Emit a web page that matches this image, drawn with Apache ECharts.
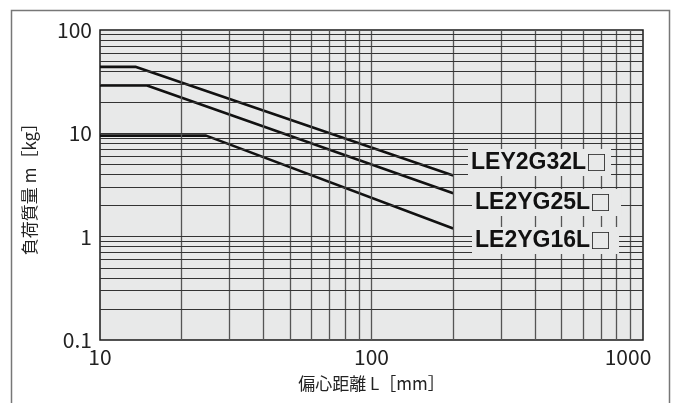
<!DOCTYPE html>
<html><head><meta charset="utf-8">
<script src="https://cdn.jsdelivr.net/npm/echarts@6/dist/echarts.min.js"></script>
<style>html,body{margin:0;padding:0;background:#fff}#c{width:673px;height:403px}</style>
</head><body><div id="c"></div>
<script>
// data
var seriesNames = ['LEY2G32L□', 'LE2YG25L□', 'LE2YG16L□'];
var dist32 = [10, 13.5, 200];
var mass32 = [44, 44, 3.9];
var dist25 = [10, 14.9, 200];
var mass25 = [29, 29, 2.63];
var dist16 = [10, 24.6, 200];
var mass16 = [9.5, 9.5, 1.2];
var xTicks = [10, 100, 1000];
var yTicks = [0.1, 1, 10, 100];
var xGrid = [20,30,40,50,60,70,80,90,100,200,300,400,500,600,700,800,900];
var yGrid = [0.2,0.3,0.4,0.5,0.6,0.7,0.8,0.9,1,2,3,4,5,6,7,8,9,10,20,30,40,50,60,70,80,90];

function pairs(xs, ys){ return xs.map(function(x,i){return [x, ys[i]];}); }
function richName(n){ return '{a|' + n.slice(0, -1) + '}{b|' + n.slice(-1) + '}'; }

var FONT = '"Noto Sans CJK JP", "Noto Sans", sans-serif';
var BOLD = '"Liberation Sans", Arial, sans-serif';
var BG = '#e8e9e9';
var chart = echarts.init(document.getElementById('c'));

var gridMarks = {
  silent: true, symbol: ['none','none'], label: {show:false}, animation:false,
  data: xGrid.map(function(v){return {xAxis: v, lineStyle:{color:'#555', width:1.3, type:'solid'}};})
    .concat(yGrid.map(function(v){return {yAxis: v, lineStyle:{color:'#333', width:1, type:'solid'}};}))
};

var nameRich = {
  a:{fontFamily:BOLD, fontWeight:'bold', fontSize:23, fill:'#111', color:'#111'},
  b:{fontFamily:FONT, fontWeight:'normal', fontSize:21, fill:'#111', color:'#111', padding:[0,0,0,0]}
};

function legendText(i, left, top, padR){
  return {type:'text', left:left, top:top, z:100,
    style:{text:richName(seriesNames[i]), rich:nameRich, fill:'#111', backgroundColor:BG, padding:[2,padR,2,3]}};
}

var lineStyle = {color:'#111', width:2.6};
chart.setOption({
  animation: false,
  grid: {left:100, right:30, top:30, bottom:63, show:true, backgroundColor:BG, borderColor:'#1a1a1a', borderWidth:1.5},
  xAxis: {
    type:'log', logBase:10, min:10, max:1000,
    name:'偏心距離 L［mm］', nameLocation:'middle', nameGap:35,
    nameTextStyle:{fontFamily:FONT, fontSize:17, color:'#222'},
    axisLine:{show:false}, axisTick:{show:false}, splitLine:{show:false},
    axisLabel:{fontFamily:FONT, fontSize:21, color:'#222', margin:7,
      formatter:function(v){ return v===1000 ? '{r|1000}' : String(v); },
      rich:{r:{fontFamily:FONT, fontSize:21, color:'#222', padding:[0,30,0,0]}}}
  },
  yAxis: {
    type:'log', logBase:10, min:0.1, max:100,
    name:'負荷質量 m［kg］', nameLocation:'middle', nameGap:62, nameRotate:90,
    nameTextStyle:{fontFamily:FONT, fontSize:17, color:'#222'},
    axisLine:{show:false}, axisTick:{show:false}, splitLine:{show:false},
    axisLabel:{fontFamily:FONT, fontSize:21, color:'#222', margin:8, padding:[0,0,6,0],
      formatter:function(v){ return String(v); }}
  },
  series: [
    {type:'line', name:seriesNames[0], data:pairs(dist32, mass32), symbol:'none', lineStyle:lineStyle, markLine:gridMarks, z:3},
    {type:'line', name:seriesNames[1], data:pairs(dist25, mass25), symbol:'none', lineStyle:lineStyle, z:3},
    {type:'line', name:seriesNames[2], data:pairs(dist16, mass16), symbol:'none', lineStyle:lineStyle, z:3}
  ],
  graphic: [
    {type:'rect', left:9, top:8, shape:{width:658, height:410}, style:{fill:'none', stroke:'#777', lineWidth:1.5}, silent:true, z:0},
    legendText(0, 468, 149, 4),
    legendText(1, 472, 189, 10),
    legendText(2, 472, 227, 8)
  ]
});
</script></body></html>
